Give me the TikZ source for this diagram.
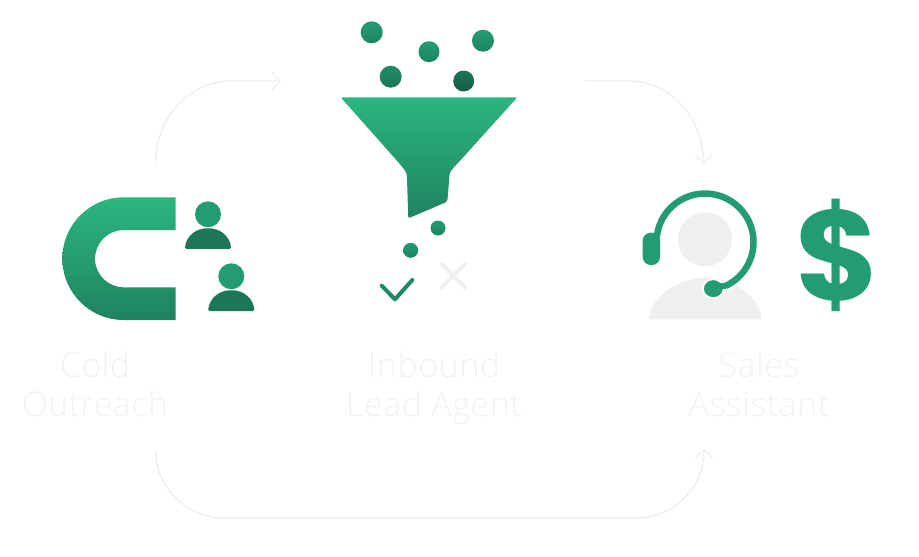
\documentclass[tikz,border=0pt]{standalone}
\usepackage{fontspec}
\setmainfont{Open Sans Light}[LetterSpace=1.5]
\newfontfamily\dollarfont{Poppins}
\usetikzlibrary{arrows.meta}
\definecolor{greenlight}{HTML}{2BB67F}
\definecolor{greenmid}{HTML}{239C71}
\definecolor{greendark}{HTML}{1C7658}
\definecolor{palegrey}{HTML}{EFEFEF}
\definecolor{labelgrey}{HTML}{F3F3F3}
\tikzset{
    iconfill/.style={top color=greenlight,middle color=greenlight!82!greendark,bottom color=greendark!80!greenlight,draw=none},
    ballfill/.style={top color=greenmid,bottom color=greenmid!85!black,draw=none},
    darkball/.style={top color=greendark,bottom color=greendark!80!black,draw=none},
    flowline/.style={draw=palegrey,line width=1.3pt,-{Straight Barb[length=8pt,width=17pt,line width=1.3pt]}},
    labeltext/.style={text=labelgrey,align=center,font=\fontsize{34}{39}\selectfont},
}
\begin{document}
\begin{tikzpicture}[x=1pt,y=-1pt]
    \useasboundingbox[fill=white] (0,0) rectangle (919,557);
    % magnet
    \path[iconfill] (175.7,197.3) -- (123.7,197.3) arc[start angle=270,end angle=90,radius=61.35]
        -- (175.7,320) -- (175.7,287.3) -- (123.7,287.3) arc[start angle=90,end angle=270,radius=28.65]
        -- (175.7,230) -- cycle;
    % people
    \foreach \px/\py in {208/214.3,231.3/276.3}
        {\fill[greenmid] (\px,\py) circle (13);
         \fill[greendark,rounded corners=1.5pt] (\px-23.2,\py+34.7) .. controls (\px-22,\py+22) and (\px-12,\py+14) .. (\px,\py+14)
            .. controls (\px+12,\py+14) and (\px+22,\py+22) .. (\px+23.2,\py+34.7) -- cycle;
        }
    % funnel
    \path[iconfill,rounded corners=2pt] (340.7,97.3) -- (517.3,97.3) -- (458,163)
        .. controls (452,169) and (449.5,172) .. (449.3,178) -- (447.3,201.7) -- (408.3,218.3) -- (407,178)
        .. controls (406.7,172) and (404,169) .. (399,163) -- cycle;
    \foreach \bx/\by/\br in {371.7/32.3/11,429/51.7/10.5,483/40.7/11,438/228/7.5,410.7/250.3/7.5}
        {\path[ballfill] (\bx,\by) circle (\br);
        }
    \path[top color=greenmid!60!greendark,bottom color=greendark] (390.7,76.7) circle (11);
    \path[darkball] (463.7,81) circle (10.5);
    % check and cross
    \draw[greenmid!50!greendark,line width=4pt,line cap=round,line join=round] (381.7,285.7) -- (395,299.3) -- (412.3,280);
    \draw[palegrey,line width=4pt,line cap=round] (441.7,264) -- (465,287.3) (465,264) -- (441.7,287.3);
    % agent
    \fill[palegrey] (705,239.3) circle (27);
    \fill[palegrey] (649,319.3) .. controls (651,295) and (680,277.7) .. (705,277.7)
        .. controls (732,277.7) and (759,295) .. (761.7,319.3) -- cycle;
    \draw[white,line width=11pt] (705,242) ++(50:48.5) arc[start angle=50,end angle=65,radius=48.5];
    \draw[greenmid,line width=6.5pt] (656.7,237.8) arc[start angle=185,end angle=425,radius=48.5];
    \fill[greenmid,rounded corners=8pt] (642.7,232.7) rectangle (660,265);
    \filldraw[greenmid,draw=white,line width=2pt] (713.3,288.7) ellipse (10.5 and 9.6);
    \draw[greenmid,line width=6.5pt] (716,286) -- (725.5,286);
    % dollar
    \node[text=greenmid,font=\fontsize{128}{128}\dollarfont\bfseries,inner sep=0pt] (dollar) at (838,255) {\$};
    % labels
    \node[labeltext] (coldlabel) at (95,388.7) {\strut Cold\\\strut Outreach};
    \node[labeltext] (inboundlabel) at (434,388.7) {\strut Inbound\\\strut Lead Agent};
    \node[labeltext] (saleslabel) at (759,388.7) {\strut Sales\\\strut Assistant};
    % connectors
    \coordinate (coldout) at (155.7,161.7);
    \coordinate (inboundin) at (281,81);
    \coordinate (inboundout) at (585,81);
    \coordinate (salesin) at (703.5,164);
    \coordinate (coldback) at (155.7,451);
    \coordinate (salesback) at (704,449);
    \draw[flowline] (coldout) .. controls (155.7,118) and (190,81) .. (230,81) -- (inboundin);
    \draw[flowline] (inboundout) -- (630,81) .. controls (670,81) and (703.5,118) .. (salesin);
    \draw[flowline] (coldback) .. controls (155.7,490) and (190,518) .. (223,518) -- (636,518)
        .. controls (672,518) and (704,490) .. (salesback);
\end{tikzpicture}
\end{document}
